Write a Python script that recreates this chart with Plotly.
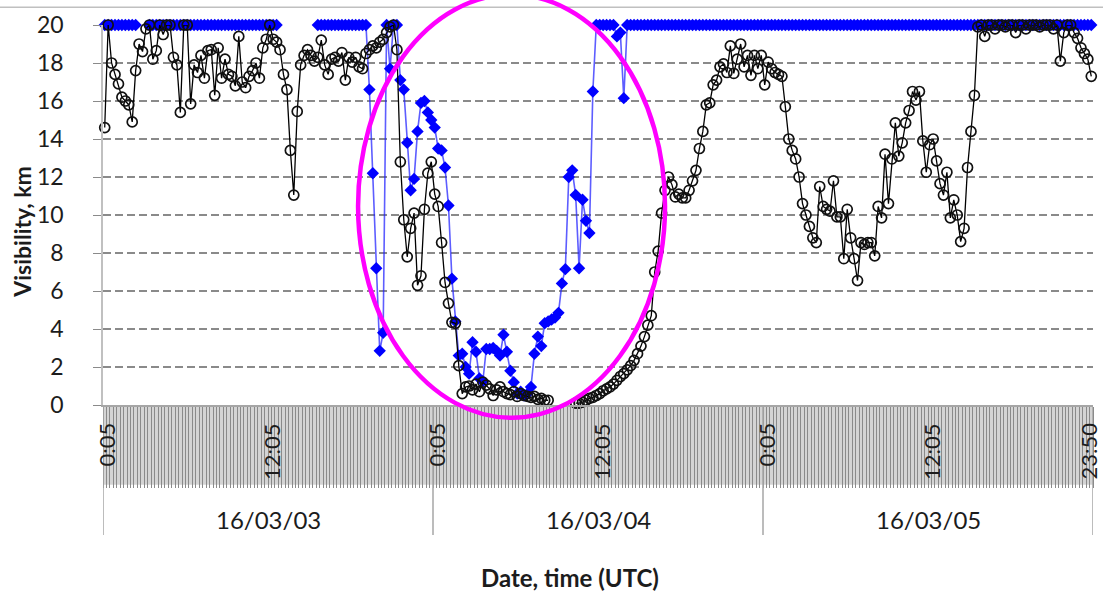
import plotly.graph_objects as go

# ---------------- data ----------------
days = ["16/03/03", "16/03/04", "16/03/05"]
slots_per_day = 96           # 15-minute records starting at 0:05
first_minute = 5
slot_step_min = 15
time_tick_slots = [0, 48, 96, 144, 192, 240, 287]
time_tick_labels = ["0:05", "12:05", "0:05", "12:05", "0:05", "12:05", "23:50"]

# black open circles (visibility, km)
black_d1 = [14.6, 20.0, 18.0, 17.4, 16.9, 16.2, 16.0, 15.8, 14.9, 17.6,
            19.0, 18.6, 19.8, 20.0, 18.2, 18.65, 20.0, 19.5, 20.0, 20.0,
            18.3, 17.9, 15.4, 20.0, 20.0, 15.85, 17.9, 17.5, 18.4, 17.2,
            18.65, 18.7, 16.3, 18.8, 17.2, 18.2, 17.4, 17.3, 16.8, 19.4,
            17.0, 16.7, 17.3, 17.6, 18.0, 17.2, 18.8, 19.25, 20.0, 19.25,
            19.1, 18.7, 17.4, 16.6, 13.4, 11.05, 15.45, 17.9, 18.4, 18.7,
            18.4, 18.1, 18.3, 19.2, 17.9, 17.4, 18.2, 18.3, 18.1, 18.55,
            17.1, 18.3, 18.05, 18.3, 17.8, 17.7, 18.5, 18.7, 18.9, 18.8,
            19.1, 19.25, 19.6, 19.9, 20.0, 18.7, 12.8, 9.75, 7.8, 9.3,
            10.1, 6.3, 6.8, 10.3, 12.2, 12.8]
black_d2 = [11.1, 10.45, 8.55, 6.45, 5.35, 4.35, 4.3, 2.07, 0.6, 0.95,
            1.0, 0.8, 1.1, 0.7, 1.2, 1.05, 0.85, 0.5, 0.8, 0.95,
            0.7, 0.6, 0.55, 0.7, 0.45, 0.6, 0.5, 0.45, 0.4, 0.45,
            0.3, 0.35, 0.25, 0.25, None, None, None, None, None, None,
            None, 0.1, 0.1, 0.15, 0.25, 0.35, 0.4, 0.5, 0.6, 0.75,
            0.85, 0.95, 1.1, 1.3, 1.5, 1.65, 1.85, 2.07, 2.35, 2.7,
            3.1, 3.6, 4.2, 4.7, 7.0, 8.1, 10.1, 11.3, 12.0, 11.6,
            10.95, 11.1, 10.9, 10.9, 11.3, 11.8, 12.35, 13.5, 14.4, 15.8,
            15.9, 16.85, 17.1, 17.8, 17.95, 17.5, 18.9, 17.45, 18.2, 19.0,
            17.8, 18.4, 17.35, 18.4, 17.7, 18.4]
black_d3 = [16.85, 18.05, 17.7, 17.5, 17.4, 17.3, 15.7, 14.0, 13.4, 12.95,
            12.0, 10.6, 10.0, 9.4, 8.8, 8.55, 11.5, 10.45, 10.3, 10.2,
            11.8, 9.9, 9.9, 7.7, 10.3, 8.8, 7.7, 6.55, 8.55, 8.45,
            8.55, 8.55, 7.85, 10.45, 9.85, 13.2, 10.6, 12.95, 14.85, 13.1,
            13.8, 14.85, 15.5, 16.5, 16.05, 16.5, 13.9, 12.25, 13.7, 14.0,
            12.85, 11.65, 11.05, 12.25, 9.85, 10.8, 10.0, 8.6, 9.3, 12.5,
            14.4, 16.3, 19.9, 20.0, 19.4, 20.0, 20.0, 19.8, 20.0, 20.0,
            19.9, 20.0, 20.0, 19.6, 20.0, 20.0, 19.8, 20.0, 20.0, 20.0,
            19.9, 20.0, 20.0, 20.0, 19.8, 20.0, 18.1, 19.6, 20.0, 20.0,
            19.6, 19.3, 18.8, 18.5, 18.2, 17.3]

# blue filled diamonds (visibility, km; capped at 20)
blue_d1 = [20, 20, 20, 20, 20, 20, 20, 20, 20, 20,
           None, None, None, 20, 20, 20, 20, 20, 20, 20,
           20, 20, 20, 20, 20, 20, 20, 20, 20, 20,
           20, 20, 20, 20, 20, 20, 20, 20, 20, 20,
           20, 20, 20, 20, 20, 20, 20, 20, 20, 20,
           20, None, None, None, None, None, None, None, None, None,
           None, None, 20, 20, 20, 20, 20, 20, 20, 20,
           20, 20, 20, 20, 20, 20, 20, 16.6, 12.2, 7.2,
           2.85, 3.8, 20, 17.7, 20, 20, 17.1, 16.6, 13.8, 11.3,
           11.9, 14.4, 15.9, 16.0, 15.4, 15.0]
blue_d2 = [14.6, 13.5, 13.4, 12.5, 10.5, 6.65, 4.4, 2.6, 2.7, 2.0,
           1.65, 3.3, 2.8, 1.4, 1.25, 2.95, 2.95, 3.0, 2.85, 2.6,
           3.7, 2.8, 1.8, 1.2, 0.6, 0.7, 0.5, 0.6, 0.95, 2.7,
           3.6, 3.1, 4.3, 4.4, 4.5, 4.6, 4.85, 6.4, 7.15, 12.0,
           12.35, 11.05, 7.2, 10.8, 9.7, 9.05, 16.5, 20, 20, 20,
           20, 20, 20, 19.4, 19.6, 16.15, 20, 20, 20, 20,
           20, 20, 20, 20, 20, 20, 20, 20, 20, 20,
           20, 20, 20, 20, 20, 20, 20, 20, 20, 20,
           20, 20, 20, 20, 20, 20, 20, 20, 20, 20,
           20, 20, 20, 20, 20, 20]
blue_d3 = [20, 20, 20, 20, 20, 20, 20, 20, 20, 20,
           20, 20, 20, 20, 20, 20, 20, 20, 20, 20,
           20, 20, 20, 20, 20, 20, 20, 20, 20, 20,
           20, 20, 20, 20, 20, 20, 20, 20, 20, 20,
           20, 20, 20, 20, 20, 20, 20, 20, 20, 20,
           20, 20, 20, 20, 20, 20, 20, 20, 20, 20,
           20, 20, 20, 20, 20, 20, 20, 20, 20, 20,
           20, 20, 20, 20, 20, 20, 20, 20, 20, 20,
           20, 20, 20, 20, 20, 20, 20, 20, 20, 20,
           20, 20, 20, 20, 20, 20]

for arr in (black_d1, black_d2, black_d3, blue_d1, blue_d2, blue_d3):
    assert len(arr) == slots_per_day, len(arr)

black = black_d1 + black_d2 + black_d3
blue = blue_d1 + blue_d2 + blue_d3
n = len(black)
idx = list(range(n))
slot_times = []
for k in range(slots_per_day):
    m = first_minute + slot_step_min * k
    slot_times.append(f"{m // 60}:{m % 60:02d}")
categories = [f"{d} {t}" for d in days for t in slot_times]

# ---------------- layout geometry ----------------
W, H = 1103, 593
ML, MR, MT, MB = 103, 10, 19, 188
PH = H - MT - MB  # plot height in px


def py(px):  # pixel row -> paper y
    return (H - MB - px) / PH


def pxx(px):  # pixel column -> paper x
    return (px - ML) / (W - ML - MR)


TEXT = "#1c1c1c"
FONT = "Lato"

fig = go.Figure()
fig.add_trace(go.Scatter(
    x=idx, y=blue, mode="lines+markers", name="blue", hovertext=categories,
    line=dict(color="rgba(30,30,255,0.72)", width=1.6),
    marker=dict(symbol="diamond", size=9.5, color="#0000FF", line=dict(width=0)),
    connectgaps=False, cliponaxis=False))
fig.add_trace(go.Scatter(
    x=idx, y=black, mode="lines+markers", name="black", hovertext=categories,
    line=dict(color="#000000", width=1.3),
    marker=dict(symbol="circle-open", size=10, color="#111111", line=dict(width=1.7)),
    connectgaps=False, cliponaxis=False))

band_px = 81
shapes = []
# hatched tick band background
shapes.append(dict(type="rect", xref="x", yref="paper", x0=-0.5, x1=n - 0.5,
                   y0=-band_px / PH, y1=0, fillcolor="#d4d4d4", line=dict(width=0), layer="below"))
# day dividers
for d in range(len(days) + 1):
    xd = d * slots_per_day - 0.5
    shapes.append(dict(type="line", xref="x", yref="paper", x0=xd, x1=xd,
                       y0=0, y1=py(537), line=dict(color="#a6a6a6", width=1.5)))
# chart border at top
shapes.append(dict(type="line", xref="paper", yref="paper", x0=pxx(0), x1=pxx(W),
                   y0=py(1), y1=py(1), line=dict(color="#c0c0c0", width=1.5)))
# magenta ellipse highlight (in slot / km units, converted to paper)
ell_slot = (73.7, 163.0)
ell_km = (-0.67, 21.6)
shapes.append(dict(type="circle", xref="paper", yref="paper",
                   x0=(ell_slot[0] + 0.5) / n, x1=(ell_slot[1] + 0.5) / n,
                   y0=ell_km[0] / 20, y1=ell_km[1] / 20,
                   line=dict(color="#FF00FF", width=4.5), layer="above"))

annotations = []
for s, lab in zip(time_tick_slots, time_tick_labels):
    annotations.append(dict(x=s, xref="x", y=py(421), yref="paper", text=lab,
                            textangle=-90, xanchor="center", yanchor="top",
                            xshift=2 if s < n - 1 else -3,
                            showarrow=False, font=dict(family=FONT, size=22, color=TEXT)))
for d, lab in enumerate(days):
    annotations.append(dict(x=d * slots_per_day + (slots_per_day - 1) / 2, xref="x",
                            y=py(521), yref="paper", text=lab, showarrow=False,
                            xanchor="center", yanchor="middle",
                            font=dict(family=FONT, size=24, color=TEXT)))
annotations.append(dict(x=pxx(22), y=py(229), xref="paper", yref="paper",
                        text="<b>Visibility, km</b>", textangle=-90, showarrow=False,
                        xanchor="center", yanchor="middle",
                        font=dict(family=FONT, size=23, color=TEXT)))
annotations.append(dict(x=pxx(570), y=py(580), xref="paper", yref="paper",
                        text="<b>Date, time (UTC)</b>", showarrow=False,
                        xanchor="center", yanchor="middle",
                        font=dict(family=FONT, size=24, color=TEXT)))

fig.update_layout(
    width=W, height=H, margin=dict(l=ML, r=MR, t=MT, b=MB, pad=0),
    paper_bgcolor="white", plot_bgcolor="white", showlegend=False,
    font=dict(family=FONT, color=TEXT),
    shapes=shapes, annotations=annotations)
fig.update_xaxes(range=[-0.5, n - 0.5], tickmode="linear", tick0=-0.5, dtick=1,
                 ticks="outside", ticklen=band_px, tickwidth=1, tickcolor="#8a8a8a",
                 showticklabels=False, showgrid=False, zeroline=False,
                 showline=True, linecolor="#a6a6a6", linewidth=1.5)
fig.update_yaxes(range=[0, 20], tickmode="linear", tick0=0, dtick=2,
                 ticks="outside", ticklen=8, tickwidth=1, tickcolor="#8a8a8a",
                 showgrid=True, gridcolor="#8a8a8a", gridwidth=1.5, griddash="8px,4px",
                 zeroline=False, showline=True, linecolor="#c0c0c0", linewidth=1.5,
                 tickfont=dict(family=FONT, size=23, color=TEXT), ticklabelstandoff=25)

fig.write_html("out.html")
